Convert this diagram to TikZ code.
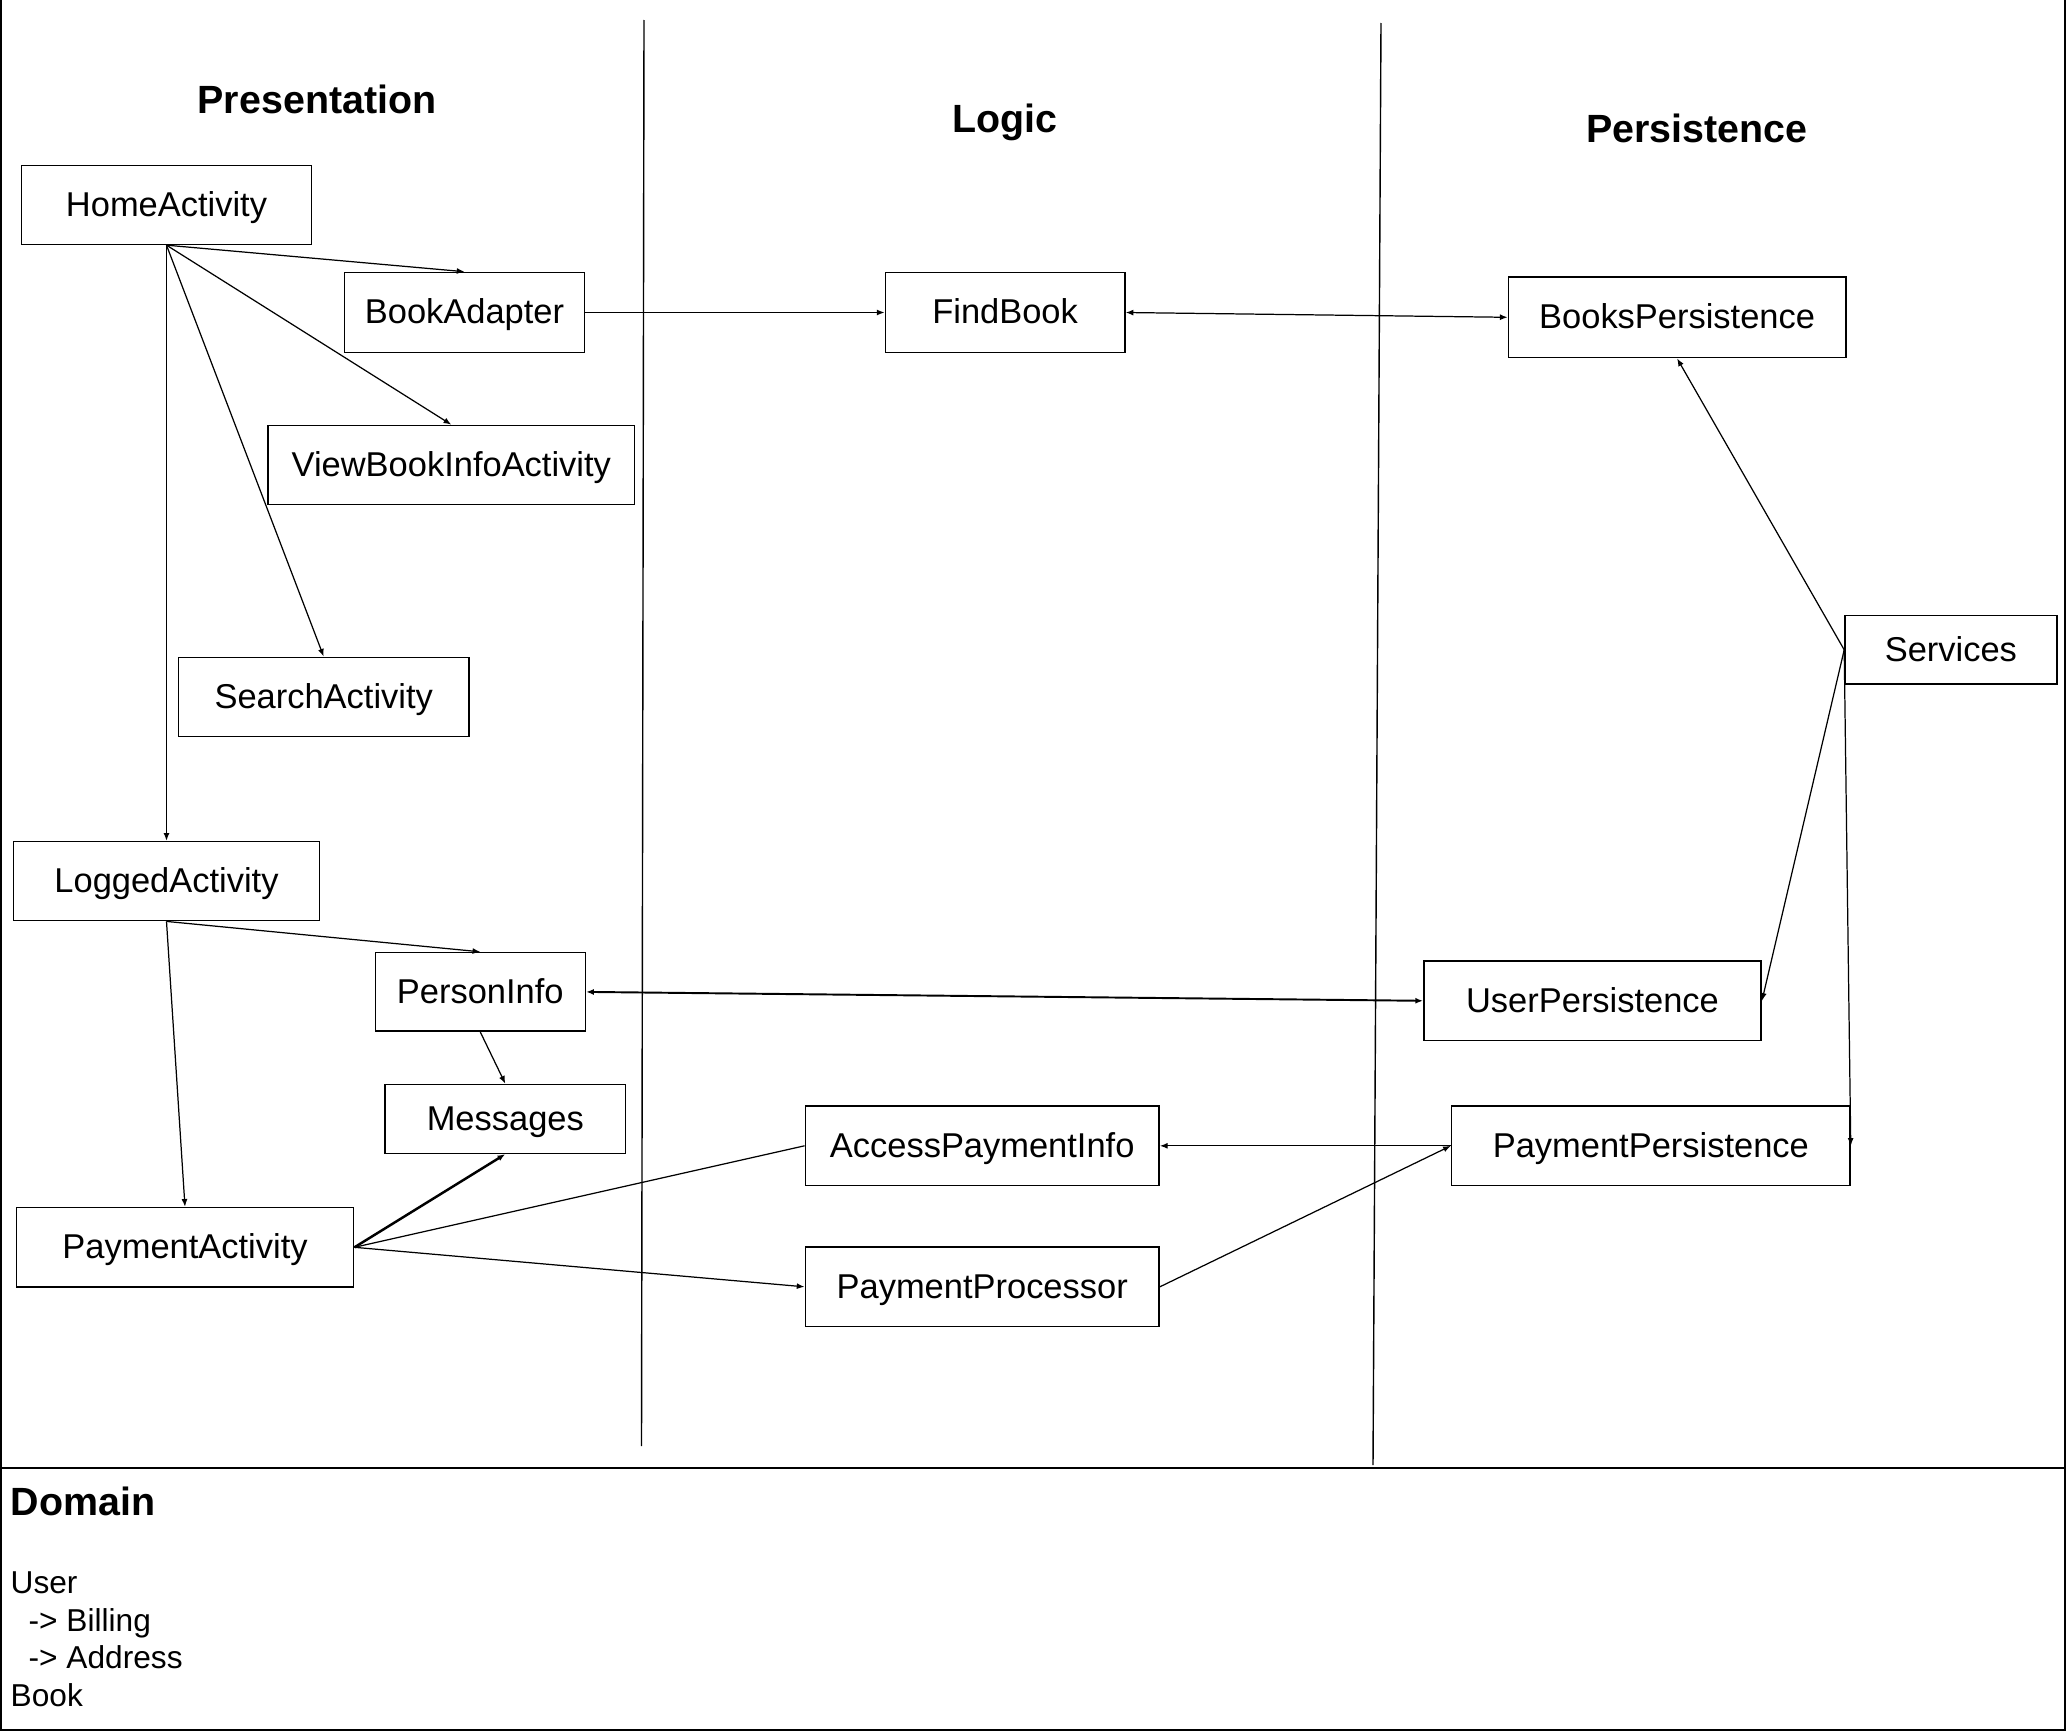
\documentclass[tikz,border=0pt]{standalone}
\usepackage{fontspec}
\setmainfont{Liberation Sans}
\usetikzlibrary{arrows.meta}
\begin{document}
\begin{tikzpicture}[x=0.01cm,y=-0.01cm,
  box/.style={draw, line width=0.45pt, inner sep=0pt, text height=6.4pt, text depth=0pt, font=\fontsize{9.8}{12}\selectfont},
  title/.style={font=\fontsize{11.2}{13}\selectfont\bfseries, anchor=base, inner sep=0pt},
  body/.style={font=\fontsize{9}{10.7}\selectfont, anchor=base west, inner sep=0pt},
  conn/.style={line width=0.35pt},
  tip/.tip={Latex[length=2.2pt,width=1.7pt]},
  arr/.style={conn, -tip},
  darr/.style={conn, tip-tip},
  frameline/.style={line width=0.55pt},
  divider/.style={line width=0.4pt}]
\useasboundingbox (0,0) rectangle (2066,1733);

% frame
\draw[frameline] (1,0) -- (1,1730) -- (2065,1730) -- (2065,0);
\draw[frameline] (1,1468) -- (2065,1468);

% lane dividers
\coordinate (d1top) at (644,20);
\coordinate (d1bot) at (641.5,1446);
\coordinate (d2top) at (1381,23);
\coordinate (d2bot) at (1373,1465);
\draw[divider] (d1top) -- (d1bot);
\draw[divider] (d2top) -- (d2bot);

% titles
\node[title] (tpres) at (317,113.6) {Presentation};
\node[title] (tlogic) at (1005,132) {Logic};
\node[title] (tpers) at (1697,142) {Persistence};

% presentation boxes
\node[box, minimum width=2.902cm, minimum height=0.789cm] (home) at (166.5,204.9) {HomeActivity};
\node[box, minimum width=2.398cm, minimum height=0.800cm] (bookadapter) at (464.5,312.5) {BookAdapter};
\node[box, minimum width=3.661cm, minimum height=0.789cm] (viewbook) at (451.3,464.9) {ViewBookInfoActivity};
\node[box, minimum width=2.902cm, minimum height=0.790cm] (search) at (323.7,696.9) {SearchActivity};
\node[box, minimum width=3.062cm, minimum height=0.790cm] (logged) at (166.5,881.1) {LoggedActivity};
\node[box, minimum width=2.099cm, minimum height=0.786cm] (person) at (480.3,991.9) {PersonInfo};
\node[box, minimum width=2.401cm, minimum height=0.688cm] (messages) at (505.3,1118.9) {Messages};
\node[box, minimum width=3.371cm, minimum height=0.794cm] (paymentact) at (185,1247.3) {PaymentActivity};

% logic boxes
\node[box, minimum width=2.394cm, minimum height=0.800cm] (findbook) at (1005.1,312.5) {FindBook};
\node[box, minimum width=3.536cm, minimum height=0.790cm] (access) at (982.2,1145.8) {AccessPaymentInfo};
\node[box, minimum width=3.536cm, minimum height=0.790cm] (processor) at (982.2,1286.8) {PaymentProcessor};

% persistence boxes
\node[box, minimum width=3.371cm, minimum height=0.806cm] (bookspers) at (1677.1,317.3) {BooksPersistence};
\node[box, minimum width=2.117cm, minimum height=0.684cm] (services) at (1950.9,649.8) {Services};
\node[box, minimum width=3.371cm, minimum height=0.790cm] (userpers) at (1592.5,1000.8) {UserPersistence};
\node[box, minimum width=3.981cm, minimum height=0.790cm] (paypers) at (1650.8,1145.8) {PaymentPersistence};

% connectors
\draw[arr] (home.south) -- (bookadapter.north);
\draw[arr] (home.south) -- (viewbook.north);
\draw[arr] (home.south) -- (search.north);
\draw[arr] (home.south) -- (logged.north);
\draw[arr] (bookadapter.east) -- (findbook.west);
\draw[darr] (findbook.east) -- (bookspers.west);
\draw[arr] (services.west) -- (bookspers.south);
\draw[arr] (services.west) -- (userpers.east);
\draw[arr] (services.west) -- (paypers.east);
\draw[arr] (logged.south) -- (person.north);
\draw[arr] (logged.south) -- (paymentact.north);
\draw[arr] (person.south) -- (messages.north);
\draw[darr, line width=0.55pt] (person.east) -- (userpers.west);
\draw[arr, line width=0.7pt] (paymentact.east) -- (messages.south);
\draw[conn] (paymentact.east) -- (access.west);
\draw[arr] (paymentact.east) -- (processor.west);
\draw[arr] (paypers.west) -- (access.east);
\draw[arr] (processor.east) -- (paypers.west);

% domain
\node[title, anchor=base west] (domain) at (10,1515) {Domain};
\node[body] (duser) at (10,1593) {User};
\node[body] (dbill) at (28,1631) {-> Billing};
\node[body] (daddr) at (28,1668) {-> Address};
\node[body] (dbook) at (10,1706) {Book};
\end{tikzpicture}
\end{document}
